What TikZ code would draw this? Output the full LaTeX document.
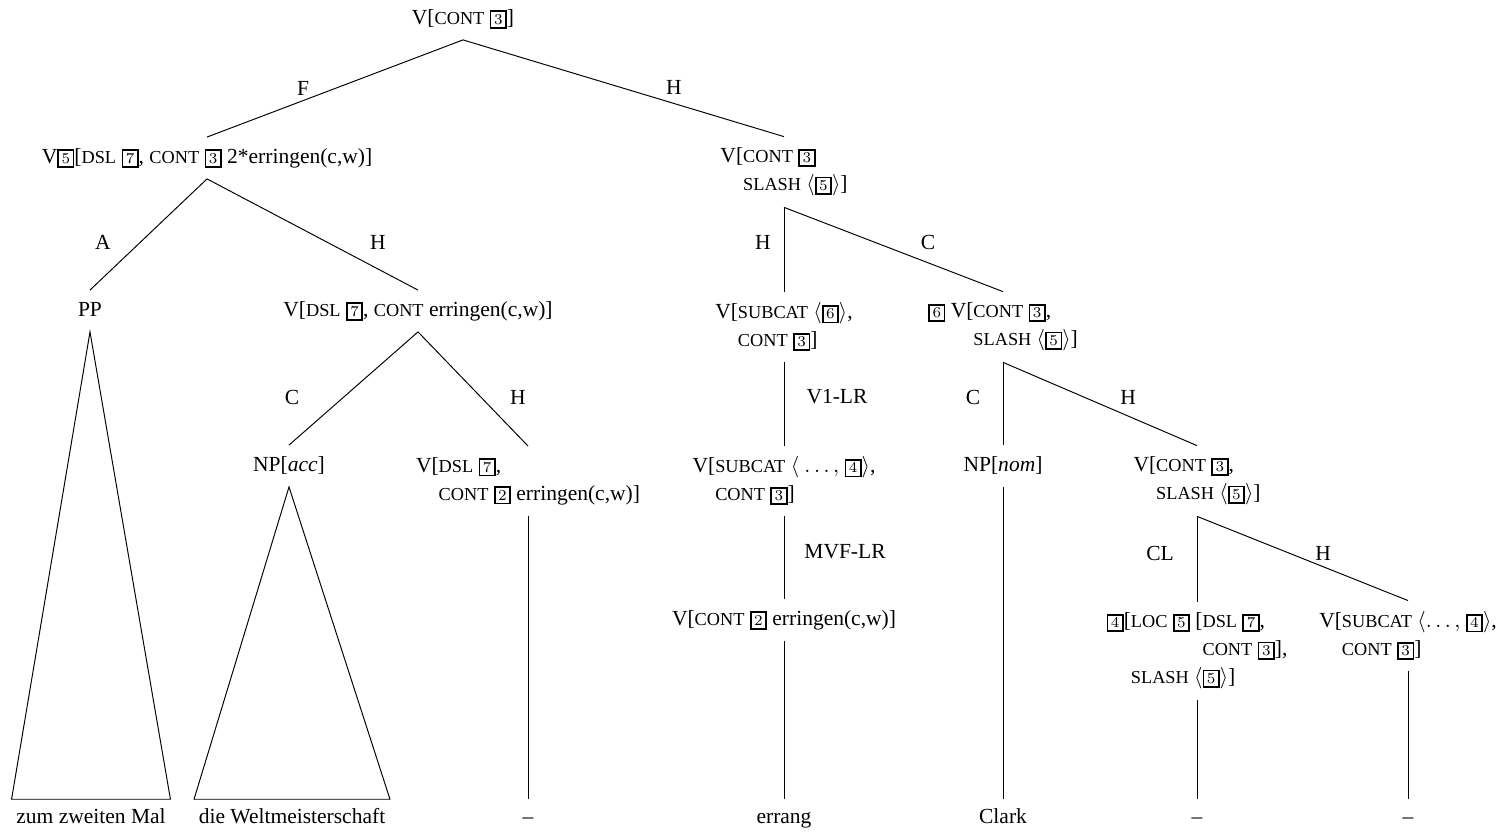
\documentclass[tikz,border=0pt]{standalone}
\usepackage{fontspec}
\setmainfont{Liberation Serif}
\usepackage{tikz}

\newcommand\feat[1]{{\fontsize{8.5}{9}\selectfont #1}}
\newcommand\tagnr[1]{{\setlength\fboxsep{1.2pt}\setlength\fboxrule{0.8pt}\fbox{$\scriptstyle #1$}}}

\begin{document}
\begin{tikzpicture}[x=0.465pt, y=-0.465pt, line width=0.45pt]
  \tikzset{cat/.style = {font=\fontsize{10}{13}\selectfont, align=left, inner ysep=5pt}}
  \tikzset{single/.style = {cat, text height=7pt, text depth=2pt}}
  \tikzset{leaf/.style = {font=\fontsize{10}{12}\selectfont, text height=7pt, text depth=2pt, inner ysep=4pt}}
  \tikzset{spanleaf/.style = {leaf, inner xsep=2pt}}
  \tikzset{branch/.style = {font=\fontsize{10}{12}\selectfont, inner sep=0pt}}

  \useasboundingbox (0,0) rectangle (1508,833);

  \node[single] (Root) at (463,19) {V[\feat{CONT} \tagnr{3}]};
  \node[single] (VFill) at (207,158) {V\tagnr{5}[\feat{DSL} \tagnr{7}, \feat{CONT} \tagnr{3} 2*erringen(c,w)]};
  \node[cat] (VSlash) at (784,172) {V[\feat{CONT} \tagnr{3}\\\phantom{V[}\feat{SLASH} $\langle$\tagnr{5}$\rangle$]};

  \node[single] (PP) at (90,311) {PP};
  \node[single] (VDsl) at (418,311) {V[\feat{DSL} \tagnr{7}, \feat{CONT} erringen(c,w)]};
  \node[cat] (VSubcatSix) at (784,327) {V[\feat{SUBCAT} $\langle$\tagnr{6}$\rangle$,\\\phantom{V[}\feat{CONT} \tagnr{3}]};
  \node[cat] (VSix) at (1003,327) {\tagnr{6} V[\feat{CONT} \tagnr{3},\\\phantom{\tagnr{6} V[}\feat{SLASH} $\langle$\tagnr{5}$\rangle$]};

  \node[single] (NPAcc) at (289,466) {NP[\textit{acc}]};
  \node[cat] (VDslTwo) at (528,481) {V[\feat{DSL} \tagnr{7},\\\phantom{V[}\feat{CONT} \tagnr{2} erringen(c,w)]};
  \node[cat] (VSubcatFour) at (784,481) {V[\feat{SUBCAT} $\langle\ \ldots,$ \tagnr{4}$\rangle$,\\\phantom{V[}\feat{CONT} \tagnr{3}]};
  \node[single] (NPNom) at (1003,466) {NP[\textit{nom}]};
  \node[cat] (VSlashTwo) at (1197,481) {V[\feat{CONT} \tagnr{3},\\\phantom{V[}\feat{SLASH} $\langle$\tagnr{5}$\rangle$]};

  \node[single] (VCont) at (784,620) {V[\feat{CONT} \tagnr{2} erringen(c,w)]};
  \node[cat] (Clitic) at (1197,651) {\tagnr{4}[\feat{LOC} \tagnr{5} [\feat{DSL} \tagnr{7},\\\phantom{\tagnr{4}[\feat{LOC} \tagnr{5} [}\feat{CONT} \tagnr{3}],\\\phantom{\tagnr{4}[}\feat{SLASH} $\langle$\tagnr{5}$\rangle$]};
  \node[cat] (VSubcatEnd) at (1408,636) {V[\feat{SUBCAT} $\langle\ldots,$ \tagnr{4}$\rangle$,\\\phantom{V[}\feat{CONT} \tagnr{3}]};

  \node[spanleaf] (ZumMal) at (91,818) {zum zweiten Mal};
  \node[spanleaf] (WM) at (292,818) {die Weltmeisterschaft};
  \node[leaf] (GapDsl) at (528,818) {--};
  \node[leaf] (Errang) at (784,818) {errang};
  \node[leaf] (Clark) at (1003,818) {Clark};
  \node[leaf] (GapCl) at (1197,818) {--};
  \node[leaf] (GapV) at (1408,818) {--};

  \draw (Root.south) -- (VFill.north);
  \draw (Root.south) -- (VSlash.north);
  \draw (VFill.south) -- (PP.north);
  \draw (VFill.south) -- (VDsl.north);
  \draw (VSlash.south) -- (VSubcatSix.north);
  \draw (VSlash.south) -- (VSix.north);
  \draw (VDsl.south) -- (NPAcc.north);
  \draw (VDsl.south) -- (VDslTwo.north);
  \draw (VSubcatSix.south) -- (VSubcatFour.north);
  \draw (VSix.south) -- (NPNom.north);
  \draw (VSix.south) -- (VSlashTwo.north);
  \draw (VSubcatFour.south) -- (VCont.north);
  \draw (VSlashTwo.south) -- (Clitic.north);
  \draw (VSlashTwo.south) -- (VSubcatEnd.north);

  \draw (PP.south) -- (ZumMal.north west) -- (ZumMal.north east) -- cycle;
  \draw (NPAcc.south) -- (WM.north west) -- (WM.north east) -- cycle;
  \draw (VDslTwo.south) -- (GapDsl.north);
  \draw (VCont.south) -- (Errang.north);
  \draw (NPNom.south) -- (Clark.north);
  \draw (Clitic.south) -- (GapCl.north);
  \draw (VSubcatEnd.south) -- (GapV.north);

  \node[branch] (BrF) at (303,88) {F};
  \node[branch] (BrH) at (674,87) {H};
  \node[branch] (BrA) at (103,242) {A};
  \node[branch] (BrHDsl) at (378,242) {H};
  \node[branch] (BrHSub) at (763,242) {H};
  \node[branch] (BrCSix) at (928,242) {C};
  \node[branch] (BrCAcc) at (292,397) {C};
  \node[branch] (BrHDslTwo) at (518,397) {H};
  \node[branch] (BrVOne) at (837,397) {V1-LR};
  \node[branch] (BrCNom) at (973,397) {C};
  \node[branch] (BrHSlash) at (1128,397) {H};
  \node[branch] (BrCL) at (1160,553) {CL};
  \node[branch] (BrHEnd) at (1323,553) {H};
  \node[branch] (BrMVF) at (845,552) {MVF-LR};
\end{tikzpicture}
\end{document}
